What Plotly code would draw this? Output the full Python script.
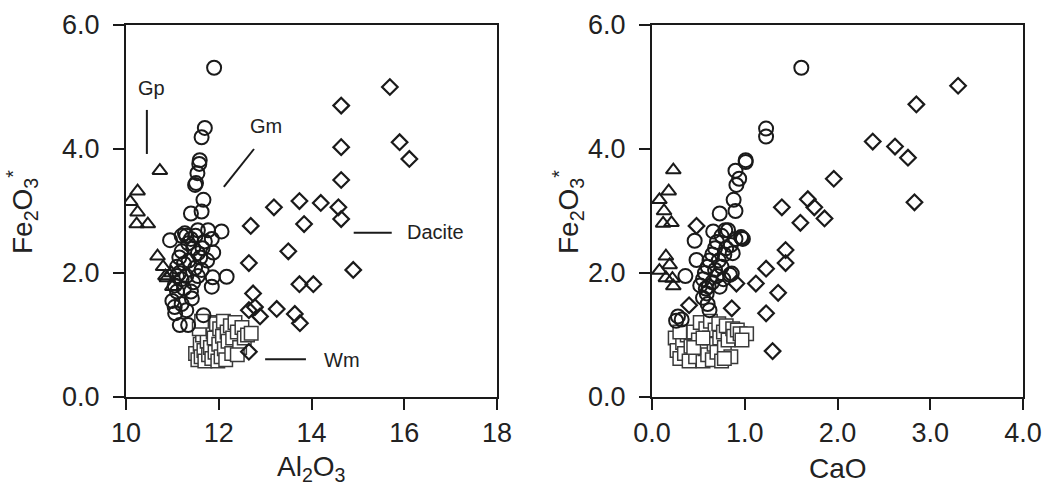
import plotly.graph_objects as go

# ---------------- data: left panel (Al2O3 vs Fe2O3*) ----------------
gp_al = [10.73, 10.25, 10.09, 10.25, 10.23, 10.47, 10.68, 10.80, 10.98, 10.88, 11.00, 10.85]
gp_fe_a = [3.65, 3.32, 3.15, 2.98, 2.79, 2.79, 2.27, 2.10, 2.00, 1.92, 1.78, 1.95]

gm_al = [11.90, 11.70, 11.63, 11.59, 11.58, 11.54, 11.51, 11.49, 11.67, 11.63, 11.40, 11.27,
         10.95, 11.55, 11.77, 12.06, 11.34, 11.70, 11.88, 11.55, 11.49, 11.63, 12.17, 11.85,
         11.87, 11.42, 11.06, 11.16, 11.34, 11.67, 11.10, 11.15, 11.20, 11.05, 11.10, 11.25,
         11.30, 11.35, 11.20, 11.40, 11.30, 11.45, 11.00, 11.05, 11.20, 11.30, 11.15, 11.25,
         11.45, 11.40, 11.60, 11.55, 11.50, 11.65, 11.75, 11.20, 11.10, 11.85]
gm_fe_a = [5.31, 4.34, 4.19, 3.82, 3.76, 3.61, 3.45, 3.42, 3.18, 2.99, 2.96, 2.64,
           2.53, 2.69, 2.69, 2.67, 2.48, 2.51, 2.33, 2.32, 2.08, 2.05, 1.94, 1.78,
           1.93, 1.59, 1.35, 1.16, 1.16, 1.32, 2.10, 2.00, 1.90, 1.80, 1.70, 1.75,
           1.95, 2.20, 2.35, 2.55, 2.60, 2.40, 1.55, 1.45, 1.50, 1.40, 2.25, 2.15,
           1.85, 1.70, 2.25, 1.95, 2.60, 2.40, 2.20, 2.60, 1.95, 2.55]

wm_al = [11.50, 11.55, 11.60, 11.62, 11.65, 11.68, 11.70, 11.72, 11.75, 11.78, 11.80, 11.82,
         11.85, 11.88, 11.90, 11.92, 11.95, 11.98, 12.00, 12.02, 12.05, 12.08, 12.10, 12.12,
         12.15, 12.18, 12.20, 12.25, 12.28, 12.30, 12.35, 12.40, 12.45, 12.50, 12.55, 12.62,
         12.70, 11.58, 11.63, 12.40]
wm_fe_a = [0.70, 0.60, 0.85, 0.65, 1.00, 0.75, 0.58, 1.15, 0.90, 0.68, 1.20, 0.80,
           0.62, 1.05, 0.95, 0.72, 1.18, 0.58, 0.85, 1.10, 0.65, 0.98, 1.22, 0.78,
           0.60, 1.05, 0.90, 1.15, 0.70, 0.95, 1.20, 1.05, 0.80, 1.12, 0.95, 1.00,
           1.03, 1.10, 1.22, 0.68]

dac_al = [15.69, 14.64, 14.64, 15.90, 16.11, 14.64, 13.74, 14.20, 13.19, 14.58, 14.64, 13.84,
          12.69, 13.50, 14.90, 12.65, 13.74, 14.04, 12.74, 12.65, 12.78, 12.89, 13.25, 13.64,
          13.75, 12.65]
dac_fe_a = [5.00, 4.70, 4.03, 4.11, 3.84, 3.50, 3.16, 3.13, 3.06, 3.06, 2.87, 2.79,
            2.76, 2.35, 2.05, 2.16, 1.82, 1.82, 1.67, 1.40, 1.45, 1.30, 1.42, 1.34,
            1.19, 0.73]

# ---------------- data: right panel (CaO vs Fe2O3*) ----------------
gp_ca = [0.23, 0.18, 0.08, 0.13, 0.12, 0.21, 0.15, 0.19, 0.08, 0.15, 0.22, 0.23]
gp_fe_c = [3.66, 3.32, 3.18, 3.00, 2.80, 2.81, 2.27, 2.13, 2.04, 1.92, 1.91, 1.79]

gm_ca = [1.61, 1.23, 1.23, 1.01, 1.01, 0.90, 0.94, 0.91, 0.88, 0.90, 0.73, 0.98,
         0.96, 0.46, 0.66, 0.82, 0.87, 0.48, 0.36, 0.86, 0.73, 0.59, 0.26, 0.32,
         0.79, 0.97, 0.61, 0.28, 0.55, 0.57, 0.60, 0.62, 0.65, 0.68, 0.70, 0.72,
         0.75, 0.78, 0.80, 0.70, 0.65, 0.58, 0.55, 0.60, 0.62, 0.52, 0.75, 0.85,
         0.90, 0.68, 0.77, 0.84]
gm_fe_c = [5.31, 4.33, 4.20, 3.82, 3.79, 3.65, 3.52, 3.42, 3.18, 3.00, 2.96, 2.55,
           2.58, 2.52, 2.67, 2.69, 2.32, 2.21, 1.95, 1.99, 1.78, 1.67, 1.23, 1.25,
           2.69, 2.56, 1.78, 1.30, 1.90, 2.00, 2.10, 2.20, 2.30, 2.40, 2.50, 2.20,
           2.10, 2.30, 2.40, 1.95, 1.85, 1.75, 1.60, 1.50, 1.40, 1.80, 2.60, 2.45,
           2.55, 2.05, 1.90, 1.97]

wm_ca = [0.25, 0.27, 0.30, 0.33, 0.35, 0.38, 0.40, 0.42, 0.45, 0.47, 0.50, 0.52,
         0.55, 0.57, 0.58, 0.60, 0.62, 0.63, 0.65, 0.67, 0.68, 0.70, 0.72, 0.73,
         0.75, 0.77, 0.78, 0.80, 0.82, 0.85, 0.87, 0.88, 0.92, 0.95, 1.02, 0.30,
         0.45, 0.55, 0.78, 0.97]
wm_fe_c = [0.95, 0.75, 0.62, 0.88, 0.70, 1.00, 0.58, 0.82, 1.05, 0.65, 0.92, 1.20,
           0.58, 0.78, 1.10, 0.68, 0.95, 1.22, 0.60, 0.85, 1.08, 0.72, 1.18, 0.95,
           0.58, 1.05, 0.80, 1.15, 0.92, 0.65, 1.10, 0.98, 1.08, 1.02, 1.02, 1.05,
           0.80, 0.95, 0.62, 0.92]

dac_ca = [3.30, 2.85, 2.38, 2.62, 2.76, 1.96, 1.68, 1.75, 2.83, 1.40, 1.86, 1.60,
          0.48, 1.44, 1.44, 1.23, 0.91, 1.12, 1.36, 0.40, 0.86, 1.23, 1.30]
dac_fe_c = [5.02, 4.72, 4.12, 4.04, 3.86, 3.52, 3.19, 3.06, 3.14, 3.06, 2.88, 2.81,
            2.76, 2.37, 2.16, 2.07, 1.83, 1.83, 1.68, 1.48, 1.43, 1.35, 0.74]

x_ticks_left = [10, 12, 14, 16, 18]
x_ticks_right = [0.0, 1.0, 2.0, 3.0, 4.0]
y_ticks = [0.0, 2.0, 4.0, 6.0]

# group labels (text, x, y) and leader lines (x0, y0, x1, y1) for left panel
labels = [("Gp", 10.56, 4.98), ("Gm", 13.02, 4.37), ("Dacite", 16.68, 2.66), ("Wm", 14.66, 0.60)]
leaders = [(10.45, 4.63, 10.45, 3.92), (12.76, 4.00, 12.11, 3.39),
           (14.91, 2.65, 15.73, 2.65), (13.00, 0.61, 13.88, 0.61)]

INK = "#1a1a1a"
FONT = "Liberation Sans, Arial, Helvetica, sans-serif"

fig = go.Figure()


def add_panel(xa, ya, gp, gm, wm, dac):
    fig.add_trace(go.Scatter(x=wm[0], y=wm[1], mode="markers", xaxis=xa, yaxis=ya,
                             marker=dict(symbol="square", size=13.5, color="white",
                                         line=dict(color="#3a3a3a", width=1.5)),
                             showlegend=False, hoverinfo="skip"))
    fig.add_trace(go.Scatter(x=dac[0], y=dac[1], mode="markers", xaxis=xa, yaxis=ya,
                             marker=dict(symbol="diamond-open", size=12, color=INK,
                                         line=dict(color=INK, width=2.2)),
                             showlegend=False, hoverinfo="skip"))
    fig.add_trace(go.Scatter(x=gm[0], y=gm[1], mode="markers", xaxis=xa, yaxis=ya,
                             marker=dict(symbol="circle-open", size=14, color=INK,
                                         line=dict(color=INK, width=2)),
                             showlegend=False, hoverinfo="skip"))
    fig.add_trace(go.Scatter(x=gp[0], y=gp[1], mode="markers", xaxis=xa, yaxis=ya,
                             marker=dict(symbol="triangle-up-open", size=13, color=INK,
                                         line=dict(color=INK, width=2)),
                             showlegend=False, hoverinfo="skip"))


add_panel("x", "y", (gp_al, gp_fe_a), (gm_al, gm_fe_a), (wm_al, wm_fe_a), (dac_al, dac_fe_a))
add_panel("x2", "y2", (gp_ca, gp_fe_c), (gm_ca, gm_fe_c), (wm_ca, wm_fe_c), (dac_ca, dac_fe_c))

for (t, x, y) in labels:
    fig.add_annotation(x=x, y=y, xref="x", yref="y", text=t, showarrow=False,
                       font=dict(size=20, color="#222", family=FONT))
for (x0, y0, x1, y1) in leaders:
    fig.add_shape(type="line", x0=x0, y0=y0, x1=x1, y1=y1, xref="x", yref="y",
                  line=dict(color=INK, width=2))

axis_common = dict(showline=True, linecolor=INK, linewidth=2, mirror=True,
                   ticks="outside", ticklen=11, tickwidth=2, tickcolor=INK,
                   showgrid=False, zeroline=False, automargin=False,
                   tickfont=dict(size=27, color="#222", family=FONT))

fig.update_layout(
    width=1044, height=485, margin=dict(l=0, r=0, t=0, b=0),
    paper_bgcolor="white", plot_bgcolor="white",
    font=dict(family=FONT, color="#222"),
    xaxis=dict(domain=[126 / 1044, 497 / 1044], range=[10, 18], tickvals=x_ticks_left,
               **axis_common),
    yaxis=dict(domain=[88 / 485, 460 / 485], range=[0, 6], tickvals=y_ticks,
               tickformat=".1f", ticklabelstandoff=8, **axis_common),
    xaxis2=dict(domain=[652 / 1044, 1023 / 1044], range=[0, 4], tickvals=x_ticks_right,
                tickformat=".1f", anchor="y2", **axis_common),
    yaxis2=dict(domain=[88 / 485, 460 / 485], range=[0, 6], tickvals=y_ticks,
                tickformat=".1f", anchor="x2", ticklabelstandoff=8, **axis_common),
)

title_font = dict(size=28, color="#222", family=FONT)
fig.add_annotation(x=311.5 / 1044, y=(485 - 468) / 485, xref="paper", yref="paper",
                   text="Al<sub>2</sub>O<sub>3</sub>", showarrow=False, font=title_font,
                   xanchor="center", yanchor="middle")
fig.add_annotation(x=837.5 / 1044, y=(485 - 468) / 485, xref="paper", yref="paper",
                   text="CaO", showarrow=False, font=title_font,
                   xanchor="center", yanchor="middle")
for xc in (22, 568):
    fig.add_annotation(x=xc / 1044, y=(485 - 212) / 485, xref="paper", yref="paper",
                       text="Fe<sub>2</sub>O<sub>3</sub><sup>*</sup>", showarrow=False,
                       font=title_font, textangle=-90, xanchor="center", yanchor="middle")

fig.write_html("out.html")
